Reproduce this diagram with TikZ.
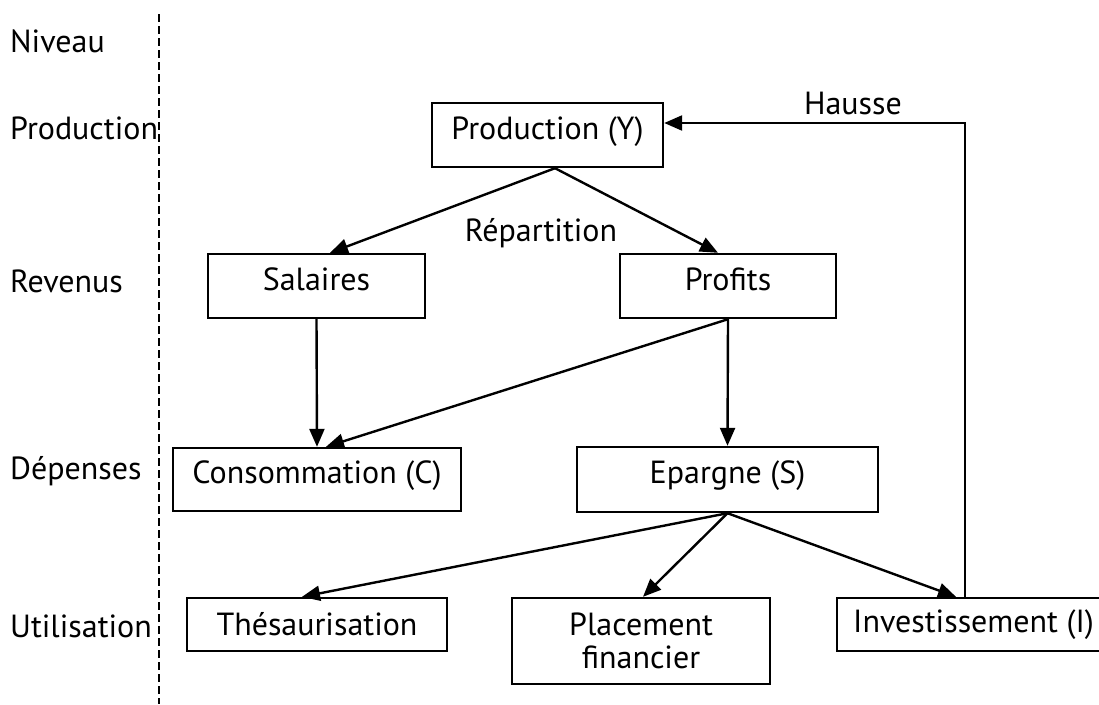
\documentclass[tikz,border=0pt]{standalone}
\usepackage{fontspec}
\setmainfont{PT Sans}
\usetikzlibrary{arrows.meta}
\begin{document}
\begin{tikzpicture}[x=1pt,y=-1pt,
  box/.style={draw,line width=2.4pt,inner sep=0pt,font=\fontsize{32}{36}\selectfont,align=center},
  up/.style={text depth=14pt},
  lvl/.style={anchor=west,inner sep=0pt,font=\fontsize{32}{36}\selectfont},
  lbl/.style={inner sep=0pt,font=\fontsize{32}{36}\selectfont},
  arr/.style={line width=2.4pt,-{Triangle[length=18pt,width=15pt]}},
  ln/.style={line width=2.4pt}]
\useasboundingbox (0,0) rectangle (1099,704);
\clip (0,0) rectangle (1099,704);
% level labels
\node[lvl] (n0) at (10,41) {Niveau};
\node[lvl] (n1) at (10,128) {Production};
\node[lvl] (n2) at (10,281) {Revenus};
\node[lvl] (n3) at (10,471) {Dépenses};
\node[lvl] (n4) at (10,626) {Utilisation};
\coordinate (dtop) at (159,14);
\coordinate (dbot) at (159,704);
\draw[line width=2.4pt,dash pattern=on 8pt off 4pt] (dtop) -- (dbot);
% boxes
\node[box,up,minimum width=231pt,minimum height=64pt] (prod) at (547.5,135) {Production (Y)};
\node[box,up,minimum width=217pt,minimum height=64pt] (sal) at (316.5,286) {Salaires};
\node[box,up,minimum width=216pt,minimum height=64pt] (prof) at (728,286) {Profits};
\node[box,up,minimum width=288pt,minimum height=63pt] (cons) at (317,479.5) {Consommation (C)};
\node[box,up,minimum width=301pt,minimum height=65pt] (epar) at (727.5,479.5) {Epargne (S)};
\node[box,minimum width=260pt,minimum height=53pt] (thes) at (317,624.5) {Thésaurisation};
\node[box,minimum width=258pt,minimum height=86pt] (plac) at (641,641) {Placement\\[-3pt]financier};
\node[box,minimum width=273pt,minimum height=53pt] (inv) at (973.5,624.5) {Investissement (I)};
% labels
\node[lbl] (rep) at (541,233) {Répartition};
\node[lbl] (hau) at (853,103) {Hausse};
% connectors
\draw[arr] ([xshift=7.5pt]prod.south) -- ([xshift=13.5pt]sal.north);
\draw[arr] ([xshift=7.5pt]prod.south) -- ([xshift=-10pt]prof.north);
\draw[arr] (sal.south) -- (cons.north);
\draw[arr] (prof.south) -- ([xshift=9pt]cons.north);
\draw[arr] (prof.south) -- (epar.north);
\draw[arr] (epar.south) -- ([xshift=-15pt]thes.north);
\draw[arr] (epar.south) -- ([xshift=2pt]plac.north);
\draw[arr] (epar.south) -- ([xshift=-17.5pt]inv.north);
\draw[arr] ([xshift=-8.5pt]inv.north) |- ([yshift=12pt]prod.east);
\end{tikzpicture}
\end{document}
